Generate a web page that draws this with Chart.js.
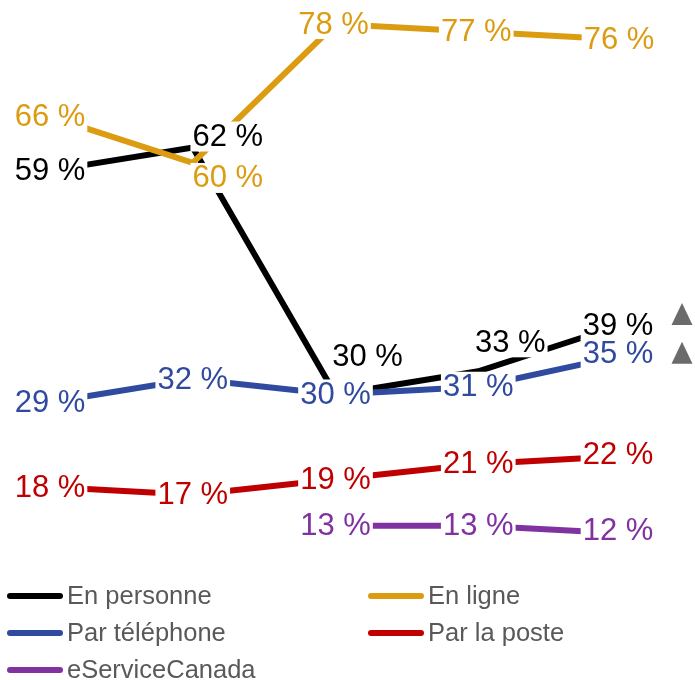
<!DOCTYPE html>
<html>
<head>
<meta charset="utf-8">
<script src="https://cdn.jsdelivr.net/npm/chart.js@4/dist/chart.umd.min.js"></script>
<style>
body{margin:0;background:#fff;font-family:Arial,"Liberation Sans",sans-serif;}
#wrap{position:relative;width:695px;height:680px;}
#legend{position:absolute;left:7px;top:577px;display:grid;grid-template-columns:361px auto;grid-auto-rows:37px;}
.item{display:flex;align-items:center;font-size:25.5px;color:#595959;white-space:nowrap;}
.item span.swatch{display:inline-block;width:56px;height:6px;border-radius:3px;margin-right:4px;}
</style>
</head>
<body>
<div id="wrap">
<canvas id="lineChart" width="695" height="578"></canvas>
<div id="legend"></div>
</div>
<script>
// periodes (axe cache dans l'original)
var periodes = ['Vague 1', 'Vague 2', 'Vague 3', 'Vague 4', 'Vague 5'];

var enPersonne   = [59, 62, 30, 33, 39];
var enLigne      = [66, 60, 78, 77, 76];
var parTelephone = [29, 32, 30, 31, 35];
var parLaPoste   = [18, 17, 19, 21, 22];
var eService     = [null, null, 13, 13, 12];

// hausses significatives (triangle) : [serie, point]
var hausses = [[0, 4], [2, 4]];

var couleurs = ['#000000', '#dc9c12', '#2f4a9e', '#c00000', '#8032a0'];
var noms = ['En personne', 'En ligne', 'Par téléphone', 'Par la poste', 'eServiceCanada'];
var series = [enPersonne, enLigne, parTelephone, parLaPoste, eService];
var ordre = [5, 1, 2, 3, 4];

var datasets = [];
for (var s = 0; s < series.length; s++) {
    datasets.push({
        label: noms[s],
        data: series[s],
        borderColor: couleurs[s],
        backgroundColor: couleurs[s],
        borderWidth: 6,
        pointRadius: 0,
        pointHoverRadius: 0,
        tension: 0,
        spanGaps: false,
        order: ordre[s]
    });
}

// etiquettes avec fond blanc
var etiquettes = {
    id: 'etiquettes',
    afterDatasetsDraw: function(chart, args, opts) {
        var ctx = chart.ctx;
        ctx.save();
        ctx.font = opts.size + 'px Arial, "Liberation Sans", sans-serif';
        ctx.textAlign = 'center';
        ctx.textBaseline = 'middle';
        var items = [];
        chart.data.datasets.forEach(function(ds, di) {
            var meta = chart.getDatasetMeta(di);
            meta.data.forEach(function(pt, i) {
                var v = ds.data[i];
                if (v == null) return;
                var sh = (opts.shift[di] && opts.shift[di][i]) || [0, 0];
                var txt = v + '\u00a0%';
                var w = ctx.measureText(txt).width;
                items.push({x: pt.x + sh[0], y: pt.y + sh[1], txt: txt, w: w, c: ds.borderColor});
            });
        });
        ctx.fillStyle = '#fff';
        items.forEach(function(it) {
            ctx.fillRect(it.x - it.w / 2 - 2, it.y - 15, it.w + 4, 30);
        });
        items.forEach(function(it) {
            ctx.fillStyle = it.c;
            ctx.fillText(it.txt, it.x, it.y + 1);
        });
        // triangles
        ctx.fillStyle = '#6b6b6b';
        hausses.forEach(function(h, k) {
            var pt = chart.getDatasetMeta(h[0]).data[h[1]];
            var cx = pt.x + 61, cy = pt.y + opts.triShift[k];
            ctx.beginPath();
            ctx.moveTo(cx, cy - 11);
            ctx.lineTo(cx + 10.5, cy + 11);
            ctx.lineTo(cx - 10.5, cy + 11);
            ctx.closePath();
            ctx.fill();
        });
        ctx.restore();
    }
};

var ctx = document.getElementById('lineChart').getContext('2d');
var lineChart = new Chart(ctx, {
    type: 'line',
    data: {
        labels: periodes,
        datasets: datasets
    },
    options: {
        responsive: false,
        animation: false,
        layout: {
            padding: {left: 50, right: 74, top: 8.6, bottom: 29.2}
        },
        scales: {
            x: {display: false, offset: false},
            y: {display: false, min: 10, max: 80}
        },
        plugins: {
            legend: {display: false},
            tooltip: {enabled: false},
            etiquettes: {
                size: 31,
                shift: {
                    0: {1: [35, -11], 2: [32, -38], 3: [32, -29], 4: [-3, 0]},
                    1: {1: [35, 15], 2: [-2, 0], 3: [-2, 0], 4: [-2, 0]},
                    2: {4: [-3, -2]},
                    3: {4: [-3, -2]},
                    4: {4: [-3, -3]}
                },
                triShift: [-11, -3]
            }
        }
    },
    plugins: [etiquettes]
});

// legende
var leg = document.getElementById('legend');
datasets.forEach(function(ds) {
    var d = document.createElement('div');
    d.className = 'item';
    d.innerHTML = '<span class="swatch" style="background:' + ds.borderColor + '"></span>' + ds.label;
    leg.appendChild(d);
});
</script>
</body>
</html>
